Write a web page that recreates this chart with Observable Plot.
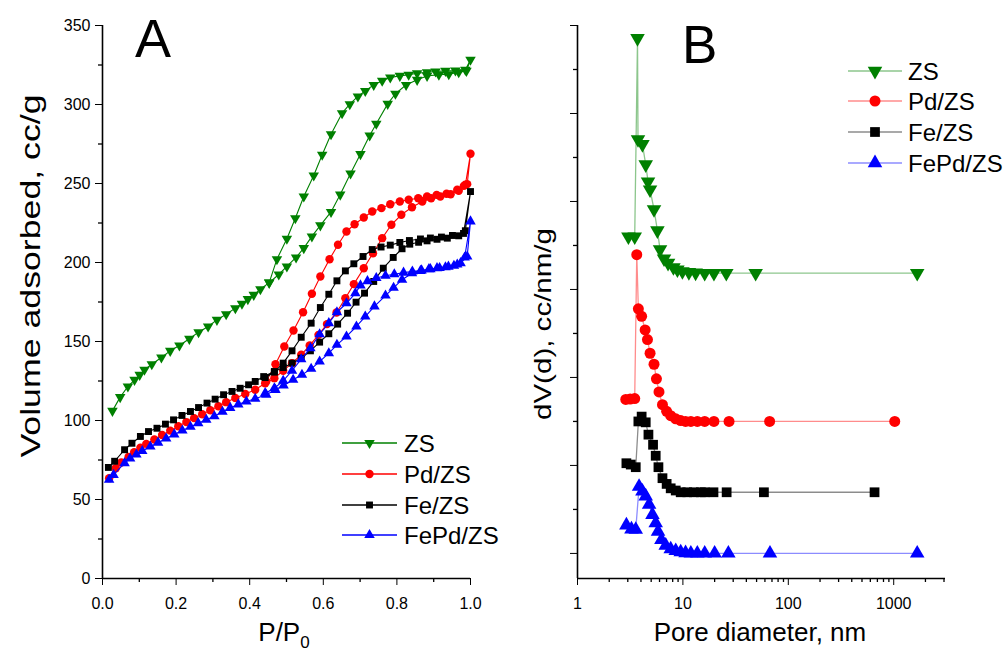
<!DOCTYPE html>
<html>
<head>
<meta charset="utf-8">
<script src="https://cdn.jsdelivr.net/npm/d3@7"></script>
<script src="https://cdn.jsdelivr.net/npm/@observablehq/plot@0.6"></script>
<style>
  html, body { margin: 0; padding: 0; background: #fff; }
  #wrap { position: relative; width: 1007px; height: 651px; overflow: hidden; }
  #left, #right { position: absolute; top: 0; }
  #left { left: 0; }
  #right { left: 520px; }
</style>
</head>
<body>
<div id="wrap"><div id="left"></div><div id="right"></div></div>
<script>
// ---------------- DATA ----------------
const seriesNames = ["ZS", "Pd/ZS", "Fe/ZS", "FePd/ZS"];

// Panel A: N2 isotherms (P/P0, volume adsorbed cc/g)
const pZSAds = [0.027,0.048,0.069,0.087,0.101,0.114,0.134,0.160,0.184,0.209,0.236,0.261,0.287,0.311,0.336,0.361,0.379,0.395,0.411,0.429,0.453,0.479,0.501,0.526,0.547,0.569,0.592,0.621,0.646,0.674,0.701,0.726,0.744,0.775,0.796,0.825,0.855,0.882,0.914,0.941,0.968,0.989,1.000];
const vZSAds = [106.1,114.8,121.5,125.7,128.9,132.1,135.6,139.9,144.1,147.5,151.7,155.9,159.5,163.7,167.3,171.1,173.9,176.8,179.5,183.1,187.3,192.4,197.5,203.2,209.1,216.5,223.5,232.0,243.0,256.3,268.6,280.4,287.8,300.4,306.8,312.4,315.6,318.1,318.8,319.2,320.4,321.3,328.3];
const pZSDes = [0.986,0.959,0.932,0.905,0.882,0.855,0.832,0.808,0.782,0.760,0.737,0.714,0.694,0.672,0.651,0.621,0.597,0.574,0.547,0.524,0.501,0.474,0.453];
const vZSDes = [322.0,321.5,321.3,320.9,320.4,319.8,318.8,318.1,317.1,315.0,312.4,308.6,305.1,300.2,294.5,281.2,268.2,255.1,241.8,228.0,215.0,202.1,187.3];

const pPdAds = [0.018,0.036,0.051,0.071,0.086,0.103,0.119,0.141,0.162,0.184,0.206,0.228,0.249,0.271,0.293,0.315,0.336,0.361,0.388,0.415,0.442,0.467,0.491,0.515,0.540,0.563,0.587,0.610,0.636,0.660,0.683,0.710,0.735,0.760,0.785,0.812,0.841,0.869,0.893,0.918,0.946,0.968,0.986,1.000];
const vPdAds = [63.5,69.8,73.4,77.0,80.0,82.8,85.2,88.0,90.8,93.6,96.4,99.0,101.5,104.0,106.5,109.0,111.6,114.3,116.8,119.5,123.6,126.8,131.5,136.3,141.6,147.5,154.2,161.0,168.4,177.4,186.3,196.4,205.9,215.4,223.9,230.2,235.0,238.6,240.7,241.8,243.2,245.4,249.2,268.8];
const pPdDes = [0.991,0.982,0.964,0.935,0.908,0.882,0.858,0.832,0.808,0.782,0.758,0.733,0.710,0.685,0.663,0.640,0.617,0.592,0.569,0.545,0.519,0.494,0.470,0.445];
const vPdDes = [249.6,248.5,246.0,243.5,242.8,241.8,240.7,239.7,238.6,236.9,234.4,232.3,228.5,224.2,219.6,211.2,202.1,191.1,180.2,168.5,157.0,146.8,135.6,124.7];

const pFeAds = [0.016,0.033,0.060,0.080,0.103,0.125,0.148,0.171,0.193,0.216,0.239,0.261,0.284,0.306,0.329,0.352,0.374,0.397,0.415,0.438,0.467,0.491,0.515,0.540,0.565,0.590,0.615,0.639,0.666,0.689,0.712,0.737,0.763,0.790,0.814,0.835,0.859,0.882,0.909,0.937,0.968,0.986,1.000];
const vFeAds = [70.3,74.2,81.5,85.6,89.9,93.0,95.1,97.7,100.4,103.2,105.7,108.2,111.0,113.5,116.3,118.4,120.4,122.6,124.7,127.8,131.0,133.5,136.3,139.4,144.1,149.6,154.9,161.0,167.9,174.9,180.6,188.0,196.4,203.2,208.7,211.6,212.8,213.7,214.7,215.4,216.9,220.1,244.9];
const pFeDes = [0.981,0.951,0.921,0.891,0.864,0.834,0.808,0.782,0.757,0.733,0.708,0.683,0.660,0.637,0.615,0.592,0.567,0.540,0.515,0.491,0.467,0.442];
const vFeDes = [218.4,217.1,216.1,215.5,214.9,213.9,212.7,211.0,209.8,208.2,203.8,199.2,194.7,188.4,179.9,171.5,161.6,152.7,144.1,136.3,130.6,127.2];

const pFePdAds = [0.018,0.030,0.060,0.075,0.092,0.108,0.130,0.151,0.173,0.195,0.217,0.239,0.260,0.282,0.304,0.326,0.347,0.369,0.391,0.415,0.445,0.470,0.492,0.518,0.542,0.567,0.590,0.615,0.637,0.663,0.690,0.714,0.739,0.769,0.791,0.814,0.841,0.864,0.887,0.909,0.932,0.955,0.973,0.991,1.000];
const vFePdAds = [62.5,65.6,73.0,75.9,78.5,80.7,83.5,86.0,88.6,91.2,93.7,96.0,98.3,100.5,102.7,105.5,108.0,110.2,112.0,113.8,116.3,119.4,122.2,125.8,128.9,132.7,137.3,142.6,147.9,153.2,159.5,165.8,172.2,179.1,184.0,189.1,193.2,194.7,195.8,196.4,197.0,197.9,199.6,203.8,226.0];
const pFePdDes = [0.984,0.964,0.940,0.916,0.891,0.867,0.842,0.818,0.793,0.769,0.744,0.720,0.701,0.687,0.663,0.637,0.615,0.590,0.565,0.540,0.515,0.491,0.467,0.442];
const vFePdDes = [203.2,198.7,197.4,196.5,195.8,195.0,194.3,193.6,192.6,191.6,190.2,188.2,185.5,180.5,174.2,168.5,161.6,154.6,145.8,138.8,131.5,125.1,120.4,117.3];

// Panel B: pore size distributions (pore diameter nm, offset dV(d) in tick units)
const dZS = [3.04,3.49,3.71,3.75,4.13,4.44,4.67,4.88,5.32,5.73,6.07,6.62,7.23,8.13,8.87,9.89,11.4,13.2,16.1,19.7,25.8,49.0,1671];
const dvZS = [7.20,7.20,11.71,9.41,9.30,8.84,8.45,8.27,7.82,7.34,6.91,6.70,6.60,6.50,6.45,6.41,6.39,6.38,6.37,6.37,6.37,6.37,6.37];
const dPd = [2.87,3.16,3.49,3.65,3.78,4.06,4.38,4.61,4.88,5.32,5.61,5.93,6.40,7.01,7.66,8.55,9.53,10.6,11.9,13.7,16.1,19.7,27.4,66.5,1023];
const dvPd = [3.50,3.51,3.52,6.79,5.56,5.39,5.08,4.86,4.55,4.30,3.97,3.67,3.38,3.23,3.13,3.06,3.02,3.00,3.00,3.00,3.00,3.00,3.00,3.00,3.00];
const dFe = [2.91,3.20,3.57,3.78,4.06,4.44,4.71,5.21,5.52,5.86,6.40,7.01,7.66,8.55,9.53,11.0,12.7,14.8,16.1,19.5,26.0,58.7,658];
const dvFe = [2.05,2.02,1.96,3.00,3.11,2.98,2.70,2.47,2.22,1.96,1.71,1.58,1.48,1.43,1.39,1.39,1.39,1.39,1.39,1.39,1.39,1.39,1.39];
const dFePd = [2.91,3.25,3.57,3.84,4.13,4.44,4.78,5.14,5.52,5.81,6.25,6.87,7.66,8.55,9.53,10.6,11.9,13.7,16.1,20.0,27.0,67.0,1671];
const dvFePd = [0.64,0.55,0.54,1.52,1.41,1.30,1.11,0.88,0.69,0.50,0.31,0.18,0.10,0.06,0.03,0.01,0.00,0.00,0.00,0.00,0.00,0.00,0.00];

// Ticks
const xTicksA = [0, 0.2, 0.4, 0.6, 0.8, 1.0];
const xMinorA = [0.1, 0.3, 0.5, 0.7, 0.9];
const yTicksA = [0, 50, 100, 150, 200, 250, 300, 350];
const yMinorA = [25, 75, 125, 175, 225, 275, 325];
const xTicksB = [1, 10, 100, 1000];
const xMinorB = [2,3,4,5,6,7,8,9,20,30,40,50,60,70,80,90,200,300,400,500,600,700,800,900,2000,3000];
const yTicksB = [0, 2, 4, 6, 8, 10, 12];
const yMinorB = [1, 3, 5, 7, 9, 11];

// ---------------- STYLE ----------------
const FONT = "Arial, 'Liberation Sans', Helvetica, sans-serif";
const COLORS = ["#008000", "#ff0000", "#000000", "#0000ff"];
const triangleDown = {
  draw(ctx, size) {
    const y = -Math.sqrt(size / (3 * Math.sqrt(3)));
    ctx.moveTo(0, -2 * y);
    ctx.lineTo(-Math.sqrt(3) * y, y);
    ctx.lineTo(Math.sqrt(3) * y, y);
    ctx.closePath();
  }
};
const symbols = [triangleDown, "circle", "square", "triangle"];
const rA = [3.9, 4.2, 3.9, 3.9];
const rB = [5.4, 5.5, 5.5, 5.4];

const join = (xs, ys) => xs.map((x, i) => ({x, y: ys[i]}));
const isoA = [
  [...join(pZSAds, vZSAds), ...join(pZSDes, vZSDes)],
  [...join(pPdAds, vPdAds), ...join(pPdDes, vPdDes)],
  [...join(pFeAds, vFeAds), ...join(pFeDes, vFeDes)],
  [...join(pFePdAds, vFePdAds), ...join(pFePdDes, vFePdDes)]
];
const psdB = [join(dZS, dvZS), join(dPd, dvPd), join(dFe, dvFe), join(dFePd, dvFePd)];

const H = 651, MT = 25, MB = 73;

// ---------------- PANEL A ----------------
const marksA = [
  Plot.ruleX(xMinorA, {x: d => d, y1: 0, y2: 0, insetBottom: -4, strokeWidth: 1.3}),
  Plot.ruleY(yMinorA, {y: d => d, x1: 0, x2: 0, insetLeft: -4, strokeWidth: 1.3}),
  Plot.ruleX([0], {strokeWidth: 1.6}),
  Plot.ruleY([0], {strokeWidth: 1.6})
];
isoA.forEach((data, i) => {
  marksA.push(Plot.line(data, {x: "x", y: "y", stroke: COLORS[i], strokeWidth: 1.1}));
  marksA.push(Plot.dot(data, {x: "x", y: "y", symbol: symbols[i], r: rA[i], fill: COLORS[i], stroke: "none"}));
});
const plotA = Plot.plot({
  width: 520, height: H,
  marginLeft: 102, marginRight: 50, marginTop: MT, marginBottom: MB,
  style: {fontFamily: FONT, fontSize: "16px", color: "#000", background: "transparent"},
  x: {domain: [0, 1], ticks: xTicksA, tickFormat: d3.format(".1f"), tickSize: 7, tickPadding: 12, label: null},
  y: {domain: [0, 350], ticks: yTicksA, tickSize: 7, tickPadding: 5, label: null},
  marks: marksA
});
document.getElementById("left").appendChild(plotA);

// ---------------- PANEL B ----------------
const dvMin = -0.57;
const marksB = [
  Plot.ruleX(xMinorB, {x: d => d, y1: dvMin, y2: dvMin, insetBottom: -4, strokeWidth: 1.3}),
  Plot.ruleY(yMinorB, {y: d => d, x1: 1, x2: 1, insetLeft: -4, strokeWidth: 1.3}),
  Plot.ruleX([1], {strokeWidth: 1.6}),
  Plot.ruleY([dvMin], {strokeWidth: 1.6})
];
psdB.forEach((data, i) => {
  marksB.push(Plot.line(data, {x: "x", y: "y", stroke: COLORS[i], strokeWidth: 1.3, strokeOpacity: 0.45}));
  marksB.push(Plot.dot(data, {x: "x", y: "y", symbol: symbols[i], r: rB[i], fill: COLORS[i], stroke: "none"}));
});
const plotB = Plot.plot({
  width: 487, height: H,
  marginLeft: 57, marginRight: 62, marginTop: MT, marginBottom: MB,
  style: {fontFamily: FONT, fontSize: "16px", color: "#000", background: "transparent"},
  x: {type: "log", domain: [1, 3100], ticks: xTicksB, tickFormat: d => String(d), tickSize: 7, tickPadding: 12, label: null},
  y: {domain: [dvMin, 12], ticks: yTicksB, tickFormat: () => "", tickSize: 7, tickPadding: 3, label: null},
  marks: marksB
});
document.getElementById("right").appendChild(plotB);

// ---------------- ANNOTATIONS (legends, titles) ----------------
function symbolOf(s) {
  if (typeof s !== "string") return s;
  return {circle: d3.symbolCircle, square: d3.symbolSquare, triangle: d3.symbolTriangle}[s];
}
function legend(svg, {x0, x1, xt, ys, rs, opacity}) {
  seriesNames.forEach((name, i) => {
    const g = svg.append("g");
    g.append("line").attr("x1", x0).attr("x2", x1).attr("y1", ys[i]).attr("y2", ys[i])
      .attr("stroke", COLORS[i]).attr("stroke-opacity", opacity).attr("stroke-width", 1.3);
    g.append("path").attr("d", d3.symbol(symbolOf(symbols[i]), Math.PI * rs[i] * rs[i])())
      .attr("transform", `translate(${(x0 + x1) / 2},${ys[i]})`).attr("fill", COLORS[i]);
    g.append("text").attr("x", xt).attr("y", ys[i]).attr("dy", "0.36em")
      .attr("text-anchor", "start").attr("font-size", 24).attr("fill", "#000").text(name);
  });
}
function addText(svg, txt, x, y, size, opts = {}) {
  const t = svg.append("text").attr("x", x).attr("y", y).attr("font-size", size)
    .attr("text-anchor", opts.anchor || "start").attr("fill", "#000").text(txt);
  if (opts.rotate) t.attr("transform", `rotate(${opts.rotate},${x},${y})`);
  if (opts.length) t.attr("textLength", opts.length).attr("lengthAdjust", "spacingAndGlyphs");
  return t;
}

const sA = d3.select(plotA);
legend(sA, {x0: 342, x1: 397, xt: 404, ys: [443, 474, 505, 535], rs: rA, opacity: 1});
addText(sA, "A", 135, 57, 54);
addText(sA, "Volume adsorbed, cc/g", 40, 276, 28, {anchor: "middle", rotate: -90, length: 363});
const px = addText(sA, "P/P", 284, 641, 26, {anchor: "middle"});
px.append("tspan").attr("font-size", 17).attr("dy", 7).text("0");

const sB = d3.select(plotB);
legend(sB, {x0: 328, x1: 382, xt: 388, ys: [71, 101, 132, 163], rs: rB, opacity: 0.45});
addText(sB, "B", 162, 63, 53);
addText(sB, "dV(d), cc/nm/g", 31, 324, 24, {anchor: "middle", rotate: -90, length: 192});
addText(sB, "Pore diameter, nm", 240, 641, 26, {anchor: "middle"});
</script>
</body>
</html>
